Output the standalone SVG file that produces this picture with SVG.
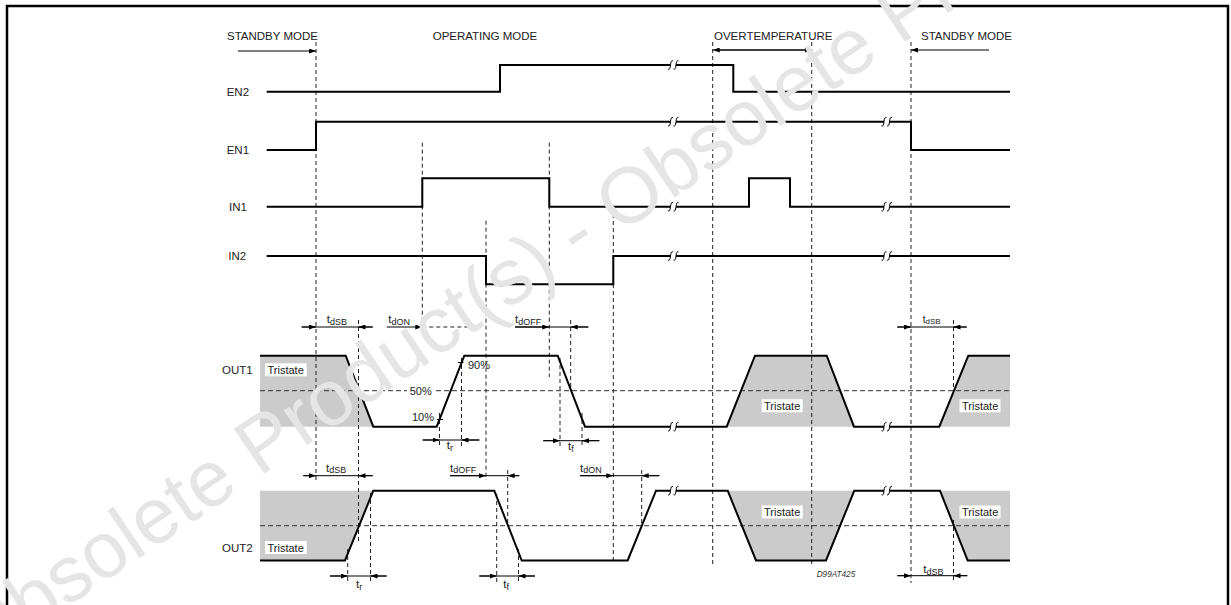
<svg xmlns="http://www.w3.org/2000/svg" width="1231" height="605" viewBox="0 0 1231 605">
<defs>
<style>
.sig{fill:none;stroke:#000;stroke-width:2;stroke-linejoin:miter}
.dash{fill:none;stroke:#222;stroke-width:1;stroke-dasharray:4 3}
.mid{fill:none;stroke:#333;stroke-width:1;stroke-dasharray:5 3}
.dim{fill:none;stroke:#000;stroke-width:1}
.arr{fill:none;stroke:#000;stroke-width:1;marker-end:url(#ah)}
.lbl{font-family:"Liberation Sans",Arial,sans-serif;font-size:11.5px;fill:#222}
.sm{font-size:11px}
.sub{font-size:9px}
.gray{fill:#cbcbcb}
.tbox{fill:#fff}
.brk{fill:none;stroke:#000;stroke-width:1}
.wm{font-family:"Liberation Sans",Arial,sans-serif;font-size:79px;fill:#e5e5e5}
</style>
<marker id="ah" viewBox="0 0 7 5" refX="7" refY="2.5" markerWidth="7" markerHeight="5" markerUnits="userSpaceOnUse" orient="auto"><path d="M0,0 L7,2.5 L0,5 z" fill="#000"/></marker>
</defs>
<rect width="1231" height="605" fill="#fff"/>

<g id="fills">
<polygon class="gray" points="260,355.7 345.7,355.7 373.3,426.7 260,426.7"/>
<polygon class="gray" points="726.7,426.7 755,355.7 826.7,355.7 854,426.7"/>
<polygon class="gray" points="939.3,426.7 968.3,355.7 1010,355.7 1010,426.7"/>
<polygon class="gray" points="260,490.7 373.3,490.7 345,560.5 260,560.5"/>
<polygon class="gray" points="727.7,490.7 854.3,490.7 826,560.5 756,560.5"/>
<polygon class="gray" points="940,490.7 1010,490.7 1010,560.5 967.7,560.5"/>
</g>

<g id="guides">
<path class="mid" d="M260,390.7 H1010 M260,525.7 H1010"/>
<path class="dash" d="M316,42 V480 M422.3,142.7 V325 M549.3,142.7 V377 M486,220.7 V480 M613.3,207 V560.5 M712.7,42 V567 M811.7,42 V567 M911,42 V583 M358.5,320 V543 M439.5,413 V448 M461.5,358 V448 M560,358 V447 M570.7,320 V391 M582,413 V447 M953.5,320 V393 M347.7,549 V584 M370.5,493 V584 M507.7,470 V526 M496.7,494 V584 M518.5,549 V584 M641.7,470 V526 M953.5,520 V583"/>
</g>

<g id="tristate">
<rect class="tbox" x="265" y="363.3" width="41.7" height="13"/>
<text class="lbl sm" x="267.5" y="374">Tristate</text>
<rect class="tbox" x="761.7" y="399.3" width="41" height="13"/>
<text class="lbl sm" x="764" y="410">Tristate</text>
<rect class="tbox" x="959.5" y="399.3" width="41" height="13"/>
<text class="lbl sm" x="962" y="410">Tristate</text>
<rect class="tbox" x="265" y="541" width="41.7" height="13"/>
<text class="lbl sm" x="267.5" y="551.5">Tristate</text>
<rect class="tbox" x="761.7" y="505.5" width="41" height="13"/>
<text class="lbl sm" x="764" y="516">Tristate</text>
<rect class="tbox" x="959.5" y="505.5" width="41" height="13"/>
<text class="lbl sm" x="962" y="516">Tristate</text>
</g>

<g id="EN2">
<text class="lbl" x="226.7" y="96">EN2</text>
<path class="sig" d="M266.7,91.7 H500 V65 H670.5 M676,65 H733.3 V91.7 H1010"/>
<path class="brk" d="M668,69 Q670,70.5 670.5,65 Q671,59.5 673,61 M673.5,69 Q675.5,70.5 676,65 Q676.5,59.5 678.5,61"/>
</g>
<g id="EN1">
<text class="lbl" x="226.7" y="154">EN1</text>
<path class="sig" d="M266.7,150 H316 V121.7 H670.5 M676,121.7 H884 M889.5,121.7 H911 V150 H1010"/>
<path class="brk" d="M668,125.7 Q670,127.2 670.5,121.7 Q671,116.2 673,117.7 M673.5,125.7 Q675.5,127.2 676,121.7 Q676.5,116.2 678.5,117.7 M881.5,125.7 Q883.5,127.2 884,121.7 Q884.5,116.2 886.5,117.7 M887,125.7 Q889,127.2 889.5,121.7 Q890,116.2 892,117.7"/>
</g>
<g id="IN1">
<text class="lbl" x="229" y="211">IN1</text>
<path class="sig" d="M266.7,206.7 H422.3 V178.3 H549.3 V206.7 H670.5 M676,206.7 H749 V178.3 H790 V206.7 H884 M889.5,206.7 H1010"/>
<path class="brk" d="M668,210.7 Q670,212.2 670.5,206.7 Q671,201.2 673,202.7 M673.5,210.7 Q675.5,212.2 676,206.7 Q676.5,201.2 678.5,202.7 M881.5,210.7 Q883.5,212.2 884,206.7 Q884.5,201.2 886.5,202.7 M887,210.7 Q889,212.2 889.5,206.7 Q890,201.2 892,202.7"/>
</g>
<g id="IN2">
<text class="lbl" x="228.3" y="260">IN2</text>
<path class="sig" d="M266.7,256 H486 V284.3 H613.3 V256 H670.5 M676,256 H884 M889.5,256 H1010"/>
<path class="brk" d="M668,260 Q670,261.5 670.5,256 Q671,250.5 673,252 M673.5,260 Q675.5,261.5 676,256 Q676.5,250.5 678.5,252 M881.5,260 Q883.5,261.5 884,256 Q884.5,250.5 886.5,252 M887,260 Q889,261.5 889.5,256 Q890,250.5 892,252"/>
</g>
<g id="OUT1">
<text class="lbl" x="222" y="374">OUT1</text>
<path class="sig" d="M260,355.7 H345.7 L373.3,426.7 H436.7 L464.3,355.7 H557.7 L585,426.7 H670.5 M676,426.7 H726.7 L755,355.7 H826.7 L854,426.7 H884 M889.5,426.7 H939.3 L968.3,355.7 H1010"/>
<path class="brk" d="M668,430.7 Q670,432.2 670.5,426.7 Q671,421.2 673,422.7 M673.5,430.7 Q675.5,432.2 676,426.7 Q676.5,421.2 678.5,422.7 M881.5,430.7 Q883.5,432.2 884,426.7 Q884.5,421.2 886.5,422.7 M887,430.7 Q889,432.2 889.5,426.7 Q890,421.2 892,422.7"/>
<path class="dim" d="M458,362.5 H463.5 M437,419.5 H443"/>
<text class="lbl sm" x="468" y="369">90%</text>
<rect class="tbox" x="407" y="384" width="26" height="13"/>
<text class="lbl sm" x="431.7" y="394.5" text-anchor="end">50%</text>
<text class="lbl sm" x="434" y="421" text-anchor="end">10%</text>
</g>
<g id="OUT2">
<text class="lbl" x="222" y="551.5">OUT2</text>
<path class="sig" d="M260,560.5 H345 L373.3,490.7 H494.3 L521.7,560.5 H627.7 L656,490.7 H670.5 M676,490.7 H727.7 L756,560.5 H826 L854.3,490.7 H884 M889.5,490.7 H940 L967.7,560.5 H1010"/>
<path class="brk" d="M668,494.7 Q670,496.2 670.5,490.7 Q671,485.2 673,486.7 M673.5,494.7 Q675.5,496.2 676,490.7 Q676.5,485.2 678.5,486.7 M881.5,494.7 Q883.5,496.2 884,490.7 Q884.5,485.2 886.5,486.7 M887,494.7 Q889,496.2 889.5,490.7 Q890,485.2 892,486.7"/>
</g>

<g id="modes">
<text class="lbl" x="227" y="40">STANDBY MODE</text>
<text class="lbl" x="432.7" y="40">OPERATING MODE</text>
<text class="lbl" x="714" y="40">OVERTEMPERATURE</text>
<text class="lbl" x="921" y="40">STANDBY MODE</text>
</g>

<g id="connectors">
<path class="arr" d="M238,51 H316"/>
<path class="dim" d="M718,50 H806"/>
<path class="arr" d="M760,50 H712.7"/>
<path class="arr" d="M760,50 H811.7"/>
<path class="arr" d="M989,50 H911"/>

<path class="dim" d="M301.7,327 H372.7"/><path class="arr" d="M301.7,327 H316"/><path class="arr" d="M372.7,327 H358.5"/>
<path class="arr" d="M386.7,327 H422.3"/><path class="dash" d="M422.3,327 H470"/>
<path class="dim" d="M515,327 H588.3"/><path class="arr" d="M515,327 H549.3"/><path class="arr" d="M588.3,327 H570.7"/>
<path class="dim" d="M422.7,440 H479.3"/><path class="arr" d="M422.7,440 H439.5"/><path class="arr" d="M479.3,440 H461.5"/>
<path class="dim" d="M543.3,440.7 H599.3"/><path class="arr" d="M543.3,440.7 H560"/><path class="arr" d="M599.3,440.7 H582"/>
<path class="dim" d="M897.3,327 H966.7"/><path class="arr" d="M897.3,327 H911"/><path class="arr" d="M966.7,327 H953.5"/>

<path class="dim" d="M303.3,475.7 H372.7"/><path class="arr" d="M303.3,475.7 H316"/><path class="arr" d="M372.7,475.7 H358.5"/>
<path class="dim" d="M450,475.7 H519.3"/><path class="arr" d="M450,475.7 H486"/><path class="arr" d="M519.3,475.7 H507.7"/>
<path class="dim" d="M580,475.7 H659.3"/><path class="arr" d="M580,475.7 H613.3"/><path class="arr" d="M659.3,475.7 H641.7"/>
<path class="dim" d="M330,576 H386.7"/><path class="arr" d="M330,576 H347.7"/><path class="arr" d="M386.7,576 H370.5"/>
<path class="dim" d="M479.3,576 H535"/><path class="arr" d="M479.3,576 H496.7"/><path class="arr" d="M535,576 H518.5"/>
<path class="dim" d="M897.3,575.7 H967.3"/><path class="arr" d="M897.3,575.7 H911"/><path class="arr" d="M967.3,575.7 H953.5"/>
</g>

<g id="timing-labels">
<text class="lbl" x="326.7" y="322.7">t<tspan class="sub" dy="1.8">dSB</tspan></text>
<text class="lbl" x="388.3" y="322.7">t<tspan class="sub" dy="1.8">dON</tspan></text>
<text class="lbl" x="515" y="322.7">t<tspan class="sub" dy="1.8">dOFF</tspan></text>
<text class="lbl" x="446.7" y="449">t<tspan class="sub" dy="2">r</tspan></text>
<text class="lbl" x="568" y="449.5">t<tspan class="sub" dy="2">f</tspan></text>
<text class="lbl" style="font-size:10px" x="922.7" y="322.5">t<tspan style="font-size:8px" dy="1.6">dSB</tspan></text>
<text class="lbl" x="326" y="471.5">t<tspan class="sub" dy="1.8">dSB</tspan></text>
<text class="lbl" x="450" y="471.5">t<tspan class="sub" dy="1.8">dOFF</tspan></text>
<text class="lbl" x="580" y="471.5">t<tspan class="sub" dy="1.8">dON</tspan></text>
<text class="lbl" x="356" y="588">t<tspan class="sub" dy="2">r</tspan></text>
<text class="lbl" x="503.3" y="588">t<tspan class="sub" dy="2">f</tspan></text>
<text class="lbl" x="923.3" y="572.7">t<tspan class="sub" dy="1.8">dSB</tspan></text>
<text class="lbl" style="font-size:8.2px;font-style:italic;fill:#333" x="816.7" y="577.3">D99AT425</text>
</g>

<rect x="7" y="6" width="1221" height="620" fill="none" stroke="#000" stroke-width="2.5"/>
<text class="wm" x="578" y="257.9" text-anchor="middle" transform="rotate(-34 578 236)">Obsolete Product(s) - Obsolete Product(s)</text>
</svg>
